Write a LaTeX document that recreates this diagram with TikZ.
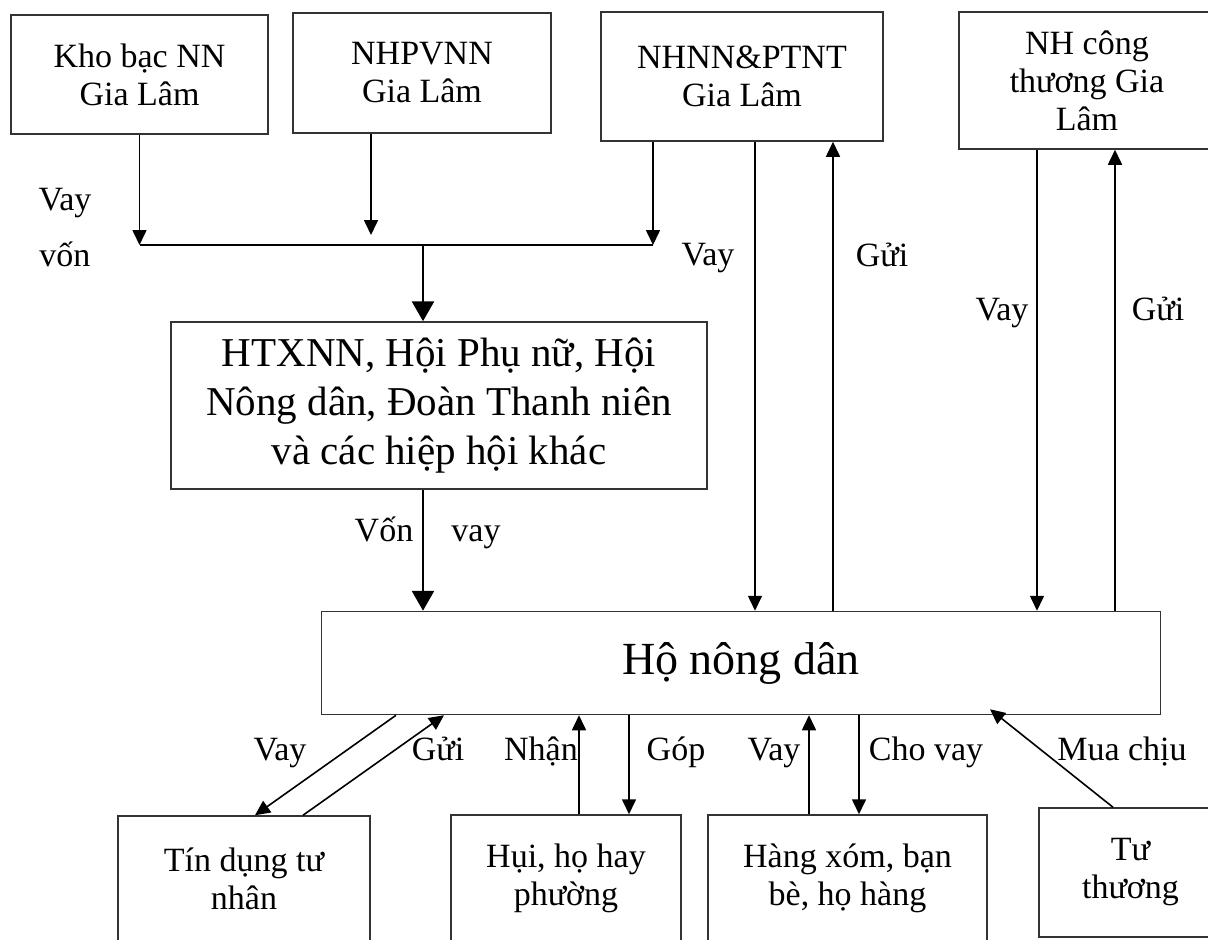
\documentclass[tikz,border=0pt]{standalone}
\usepackage{fontspec}
\setmainfont{Liberation Serif}
\usetikzlibrary{arrows.meta}

\tikzset{
  box/.style={draw=black!80, line width=1.5pt, align=center, inner sep=0pt, font=\fontsize{34}{38}\selectfont},
  lbl/.style={align=center, inner sep=0pt, text height=24pt, text depth=8pt, font=\fontsize{34}{38}\selectfont},
  arr/.style={line width=1.6pt, -{Triangle[width=14pt,length=15pt]}},
  bigarr/.style={line width=2.8pt, -{Triangle[width=22pt,length=20pt]}}
}

\begin{document}
\begin{tikzpicture}[x=1pt, y=-1pt]
      \useasboundingbox (0,0) rectangle (1208,940);

      \node[box, minimum width=257pt, minimum height=119pt] (kho) at (139.5,74.5) {Kho bạc NN\\Gia Lâm};
      \node[box, minimum width=258pt, minimum height=120pt] (nhpv) at (422,73) {NHPVNN\\Gia Lâm};
      \node[box, minimum width=282pt, minimum height=129pt] (nhnn) at (742,76.5) {NHNN\&PTNT\\Gia Lâm};
      \node[box, minimum width=256pt, minimum height=137pt] (nhct) at (1087,80.5) {NH công\\thương Gia\\Lâm};
      \node[box, minimum width=536pt, minimum height=167pt, font=\fontsize{41}{49}\selectfont] (htx) at (439,405.5) {HTXNN, Hội Phụ nữ, Hội\\Nông dân, Đoàn Thanh niên\\và các hiệp hội khác};
      \node[box, minimum width=839pt, minimum height=103pt, font=\fontsize{46}{50}\selectfont] (ho) at (741,663) {Hộ nông dân};
      \node[box, minimum width=252pt, minimum height=126pt] (tin) at (244,879) {Tín dụng tư\\nhân};
      \node[box, minimum width=230pt, minimum height=127pt] (hui) at (566,878.5) {Hụi, họ hay\\phường};
      \node[box, minimum width=279pt, minimum height=127pt] (hx) at (847.5,878.5) {Hàng xóm, bạn\\bè, họ hàng};
      \node[box, minimum width=183pt, minimum height=129pt] (tt) at (1130.5,872.5) {Tư\\thương};

      \coordinate (busL) at (140,245);
      \coordinate (busR) at (653,245);

      \draw[arr] (kho.south) -- (kho.south |- busL);
      \draw[arr] ([xshift=-51pt]nhpv.south) -- ([xshift=-51pt,yshift=10pt]nhpv.south |- busL);
      \draw[arr] ([xshift=-89pt]nhnn.south) -- ([xshift=-89pt]nhnn.south |- busR);
      \draw[line width=1.6pt] (busL) -- (busR);
      \draw[bigarr] ([xshift=-16pt]htx.north |- busL) -- ([xshift=-16pt]htx.north);
      \draw[bigarr] ([xshift=-16pt]htx.south) -- ([xshift=-16pt]htx.south |- ho.north);

      \draw[arr] ([xshift=13pt]nhnn.south) -- ([xshift=13pt]nhnn.south |- ho.north);
      \draw[arr] ([xshift=91pt]nhnn.south |- ho.north) -- ([xshift=91pt]nhnn.south);
      \draw[arr] ([xshift=-50pt]nhct.south) -- ([xshift=-50pt]nhct.south |- ho.north);
      \draw[arr] ([xshift=28pt]nhct.south |- ho.north) -- ([xshift=28pt]nhct.south);

      \draw[arr] ([xshift=-345pt]ho.south) -- ([xshift=11pt]tin.north);
      \draw[arr] ([xshift=59pt]tin.north) -- ([xshift=-297pt]ho.south);
      \draw[arr] ([xshift=13pt]hui.north) -- ([xshift=13pt]hui.north |- ho.south);
      \draw[arr] ([xshift=63pt]hui.north |- ho.south) -- ([xshift=63pt]hui.north);
      \draw[arr] ([xshift=-38.5pt]hx.north) -- ([xshift=-38.5pt]hx.north |- ho.south);
      \draw[arr] ([xshift=11.5pt]hx.north |- ho.south) -- ([xshift=11.5pt]hx.north);
      \draw[arr] ([xshift=-17.5pt]tt.north) -- ([xshift=249pt,yshift=6pt]ho.south);

      \node[lbl, text height=80pt, font=\fontsize{34}{56}\selectfont] (lvayvon) at (65,230) {Vay\\vốn};
      \node[lbl] (lvay1) at (708,257) {Vay};
      \node[lbl] (lgui1) at (882,258) {Gửi};
      \node[lbl] (lvay2) at (1002,312) {Vay};
      \node[lbl] (lgui2) at (1158,312) {Gửi};
      \node[lbl] (lvon) at (384,533) {Vốn};
      \node[lbl] (lvay3) at (476,533) {vay};
      \node[lbl] (lvay4) at (280,752) {Vay};
      \node[lbl] (lgui3) at (438,752) {Gửi};
      \node[lbl] (lnhan) at (541,752) {Nhận};
      \node[lbl] (lgop) at (676,752) {Góp};
      \node[lbl] (lvay5) at (774,752) {Vay};
      \node[lbl] (lchovay) at (926,752) {Cho vay};
      \node[lbl] (lmua) at (1122,752) {Mua chịu};

    \end{tikzpicture}
\end{document}
